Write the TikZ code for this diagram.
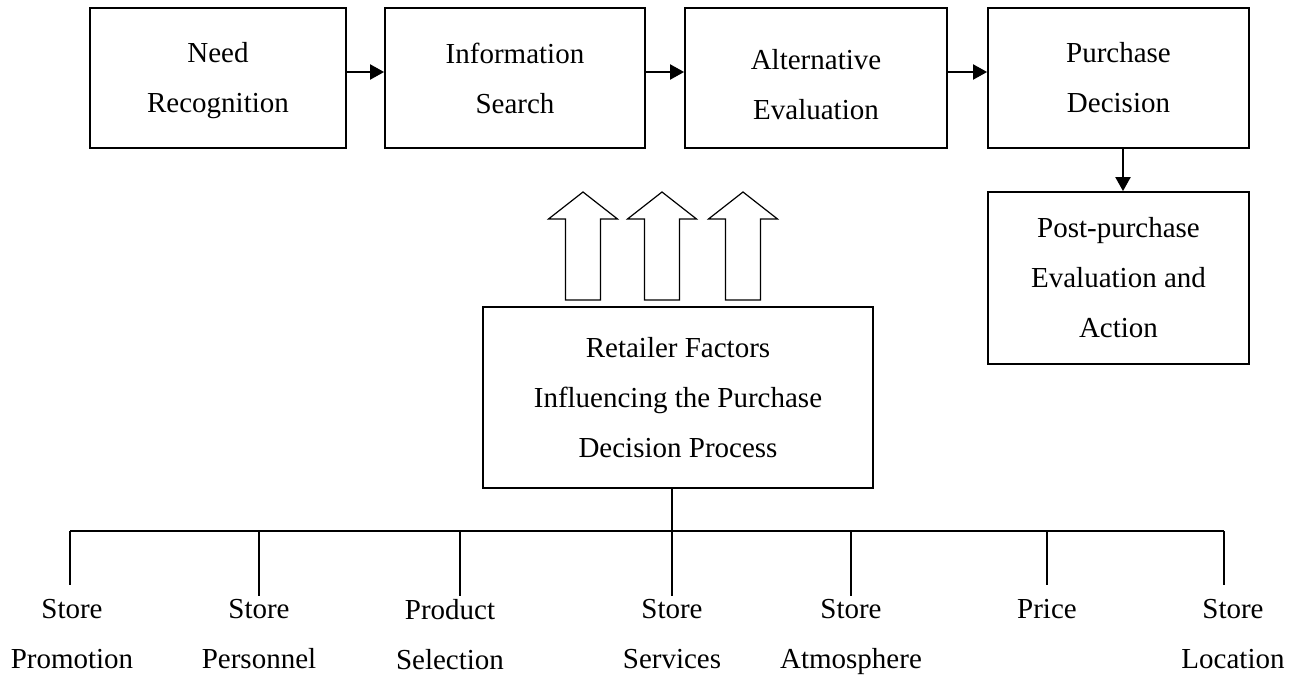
\documentclass[tikz,border=0pt]{standalone}
\usepackage{fontspec}
\setmainfont{Liberation Serif}
\usetikzlibrary{arrows.meta,positioning}

\tikzset{
  stage/.style={draw,line width=0.9pt,minimum width=130pt,minimum height=70pt,align=center,inner sep=0pt},
  factor/.style={align=center,inner sep=0pt,anchor=north},
  flow/.style={line width=1pt,-{Triangle[length=7pt,width=7.5pt]}},
  tree/.style={line width=0.75pt},
  hollow/.style={line width=0.6pt,line join=miter},
}

\begin{document}
\begin{tikzpicture}[x=0.5pt,y=-0.5pt,font=\fontsize{14.5}{25}\selectfont]
  \useasboundingbox (0,0) rectangle (1302,675);
  % decision stages
  \node[stage,minimum width=128pt] (need) at (218,78) {\rule{0pt}{12.9pt}Need\\Recognition};
  \node[stage] (info) at (515,78) {Information\\Search};
  \node[stage,minimum width=131pt] (alt) at (816,78) {\rule{0pt}{17pt}Alternative\\Evaluation};
  \node[stage,minimum width=130.5pt] (buy) at (1118.5,78) {Purchase\\Decision};
  \node[stage,minimum width=130.5pt,minimum height=86pt] (post) at (1118.5,278) {Post-purchase\\Evaluation and\\Action};
  \node[stage,minimum width=195pt,minimum height=90.5pt] (retail) at (678,397.5) {Retailer Factors\\Influencing the Purchase\\Decision Process};
  \draw[flow] ([yshift=3pt]need.east) -- ([yshift=3pt]info.west);
  \draw[flow] ([yshift=3pt]info.east) -- ([yshift=3pt]alt.west);
  \draw[flow] ([yshift=3pt]alt.east) -- ([yshift=3pt]buy.west);
  \draw[flow] ([xshift=2.25pt]buy.south) -- ([xshift=2.25pt]post.north);
  % block arrows above the retailer box
  \foreach \ax in {583,662,743}
    \draw[hollow] (\ax-17.5,300) -- ++(0,-81) -- ++(-17,0) -- (\ax,192) -- (\ax+34.5,219) -- ++(-17,0) -- (\ax+17.5,300) -- cycle;
  % retailer factors
  \node[factor] (prom) at (72,599) {Store\\Promotion};
  \node[factor] (pers) at (259,599) {Store\\Personnel};
  \node[factor] (prod) at (450,599) {Product\\Selection};
  \node[factor] (serv) at (672,599) {Store\\Services};
  \node[factor] (atmo) at (851,599) {Store\\Atmosphere};
  \node[factor] (price) at (1047,599) {Price};
  \node[factor] (loc) at (1233,599) {Store\\Location};
  \coordinate (bus) at (0,531);
  \draw[tree] (retail.south -| serv.north) -- ([yshift=1.5pt]serv.north);
  \draw[tree] ([xshift=-1pt]prom.north |- bus) -- ([xshift=-4.5pt]loc.north |- bus);
  \draw[tree] ([xshift=-1pt]prom.north |- bus) -- ([xshift=-1pt,yshift=7pt]prom.north);
  \draw[tree] (pers.north |- bus) -- ([yshift=1.5pt]pers.north);
  \draw[tree] ([xshift=5pt]prod.north |- bus) -- ([xshift=5pt,yshift=1.5pt]prod.north);
  \draw[tree] (atmo.north |- bus) -- ([yshift=1.5pt]atmo.north);
  \draw[tree] (price.north |- bus) -- ([yshift=7pt]price.north);
  \draw[tree] ([xshift=-4.5pt]loc.north |- bus) -- ([xshift=-4.5pt,yshift=7pt]loc.north);
\end{tikzpicture}
\end{document}
